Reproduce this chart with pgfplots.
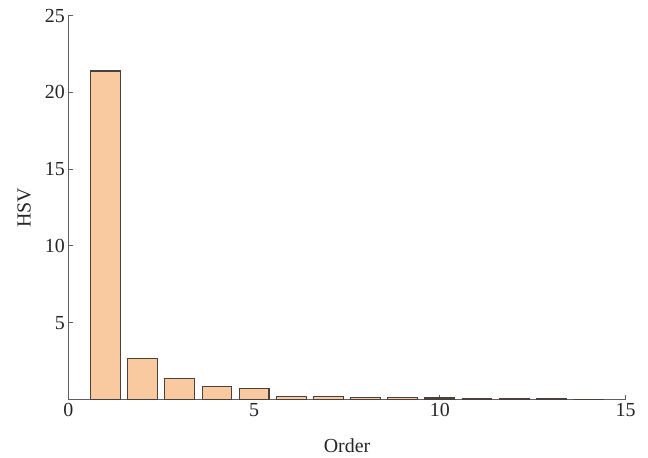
\documentclass[border=0pt]{standalone}
\usepackage{pgfplots}
\pgfplotsset{compat=1.18}
\usepackage{fontspec}
\setmainfont{Liberation Serif}
\definecolor{barfill}{RGB}{249,202,160}
\definecolor{baredge}{RGB}{75,65,60}
\definecolor{axcol}{RGB}{95,95,95}
\begin{document}
\begin{tikzpicture}
\begin{axis}[
  scale only axis,
  width=557.4bp, height=383.8bp,
  xmin=0, xmax=15, ymin=0, ymax=25,
  axis x line=bottom, axis y line=left,
  axis line style={-, draw=axcol, line width=1.1bp},
  xtick={0,5,10,15}, ytick={5,10,15,20,25},
  tick align=inside,
  major tick length=4.5bp,
  tick style={draw=axcol, line width=1bp},
  /pgf/number format/assume math mode=true,
  tick label style={font=\fontsize{20}{24}\selectfont, text=black!85},
  label style={font=\fontsize{20}{24}\selectfont, text=black!85},
  xlabel={Order}, ylabel={HSV},
  xlabel style={at={(axis description cs:0.5,0)}, anchor=base, yshift=-53bp},
  ylabel style={at={(axis description cs:-0.0675,0.5)}, anchor=base},
  clip=false,
]
\addplot[ybar, bar width=0.8, fill=barfill, draw=baredge, line width=1.1bp] coordinates {
(1,21.4) (2,2.7) (3,1.37) (4,0.83) (5,0.72) (6,0.2) (7,0.18) (8,0.15) (9,0.13) (10,0.1) (11,0.06) (12,0.05) (13,0.03) (14,0.02)
};
\coordinate (ll) at (rel axis cs:0,0);
\coordinate (ur) at (rel axis cs:1,1);
\end{axis}
\pgfresetboundingbox
\path ([shift={(-68.3bp,-58.5bp)}]ll) rectangle ([shift={(22.3bp,15.7bp)}]ur);
\end{tikzpicture}
\end{document}
